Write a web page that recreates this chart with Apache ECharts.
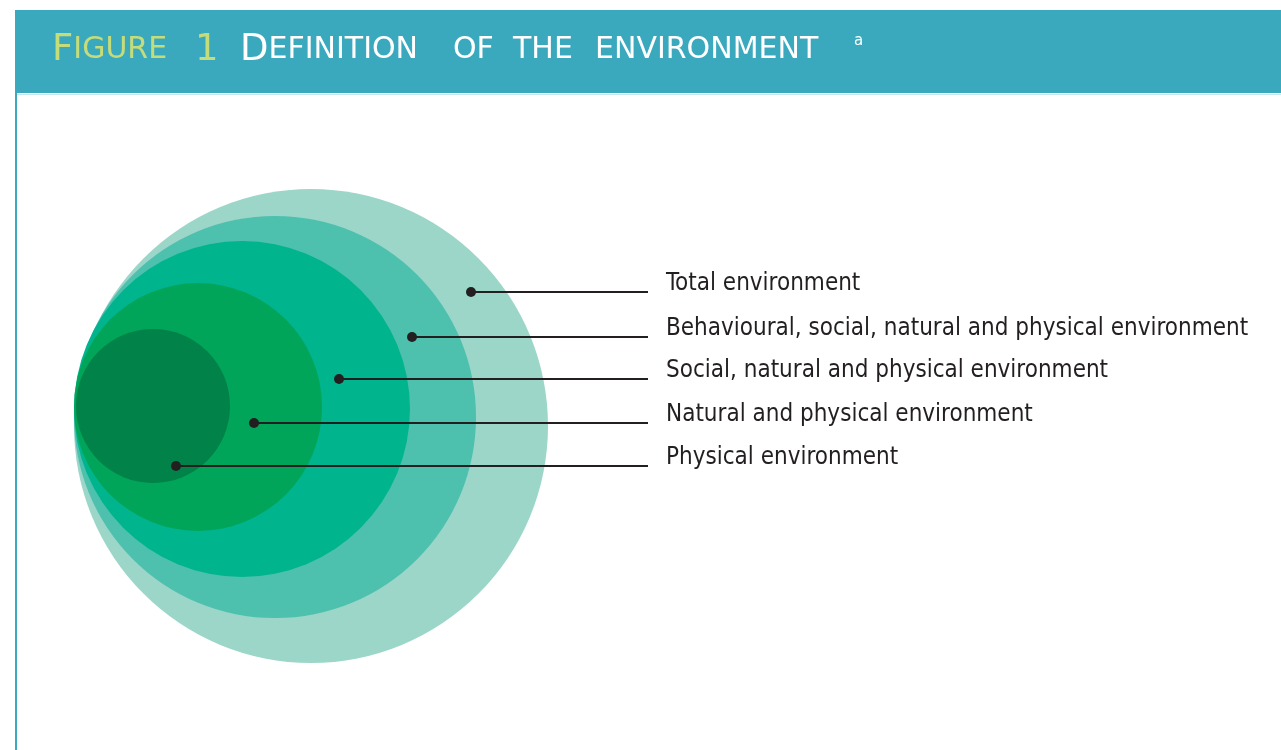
<!DOCTYPE html>
<html>
<head>
<meta charset="utf-8">
<title>Figure 1 Definition of the environment</title>
<script src="https://cdn.jsdelivr.net/npm/echarts@6/dist/echarts.min.js"></script>
<style>
  html, body { margin: 0; padding: 0; background: #fff; }
  #main { width: 1281px; height: 750px; }
</style>
</head>
<body>
<div id="main"></div>
<script>
// layers, outer to inner
const layerNames = [
  'Total environment',
  'Behavioural, social, natural and physical environment',
  'Social, natural and physical environment',
  'Natural and physical environment',
  'Physical environment'
];
const circleX = [311, 275, 242, 198, 153];
const circleY = [426, 417, 409, 407, 406];
const circleR = [237, 201, 168, 124, 77];
const circleColors = ['#9bd6c8', '#4dc0ae', '#00b48e', '#00a55a', '#008248'];
// leader dots
const dotX = [471, 412, 339, 254, 176];
const dotY = [292, 337, 379, 423, 466];
const lineEndX = 648;
const labelX = 666;

const chart = echarts.init(document.getElementById('main'));

const circleData = layerNames.map((n, i) => [circleX[i], circleY[i], circleR[i], i]);
const leaderData = layerNames.map((n, i) => [dotX[i], dotY[i], lineEndX, labelX, i]);

// title words (small caps faked with two sizes)
const titleFont = '"DejaVu Sans", sans-serif';
const capStyle = (color) => ({
  big: { fontFamily: titleFont, fontSize: 37, fill: color, verticalAlign: 'bottom', height: 40 },
  small: { fontFamily: titleFont, fontSize: 30, fill: color, verticalAlign: 'bottom', height: 40 }
});
function titleWord(x, big, small, color) {
  return {
    type: 'text', left: x, top: 32,
    style: { text: '{big|' + big + '}' + (small ? '{small|' + small + '}' : ''), rich: capStyle(color) }
  };
}
const green = '#c5dc7a';
const white = '#ffffff';

const option = {
  animation: false,
  backgroundColor: '#fff',
  grid: { left: 0, top: 0, right: 0, bottom: 0 },
  xAxis: { type: 'value', min: 0, max: 1281, show: false },
  yAxis: { type: 'value', min: 0, max: 750, inverse: true, show: false },
  graphic: [
    { type: 'rect', shape: { x: 15, y: 10, width: 1266, height: 83 }, style: { fill: '#3aa9be' } },
    { type: 'line', shape: { x1: 16, y1: 93, x2: 16, y2: 750 }, style: { stroke: '#3aa9be', lineWidth: 2 } },
    { type: 'line', shape: { x1: 17, y1: 94.5, x2: 1281, y2: 94.5 }, style: { stroke: '#c6e7ee', lineWidth: 1 } },
    titleWord(52, 'F', 'IGURE', green),
    titleWord(195, '1', '', green),
    titleWord(240, 'D', 'EFINITION', white),
    titleWord(453, '', 'OF', white),
    titleWord(513, '', 'THE', white),
    titleWord(595, '', 'ENVIRONMENT', white),
    { type: 'text', left: 854, top: 34, style: { text: 'a', fontFamily: titleFont, fontSize: 15, fill: white } }
  ],
  series: [
    {
      type: 'custom',
      coordinateSystem: 'cartesian2d',
      data: circleData,
      renderItem: (params, api) => {
        const c = api.coord([api.value(0), api.value(1)]);
        const r = api.size([api.value(2), 0])[0];
        return {
          type: 'circle',
          shape: { cx: c[0], cy: c[1], r: r },
          style: { fill: circleColors[api.value(3)] }
        };
      }
    },
    {
      type: 'custom',
      coordinateSystem: 'cartesian2d',
      data: leaderData,
      renderItem: (params, api) => {
        const i = api.value(4);
        const p0 = api.coord([api.value(0), api.value(1)]);
        const p1 = api.coord([api.value(2), api.value(1)]);
        const pt = api.coord([api.value(3), api.value(1)]);
        return {
          type: 'group',
          children: [
            { type: 'line', shape: { x1: p0[0], y1: p0[1], x2: p1[0], y2: p1[1] }, style: { stroke: '#231f20', lineWidth: 2 } },
            { type: 'circle', shape: { cx: p0[0], cy: p0[1], r: 5 }, style: { fill: '#231f20' } },
            {
              type: 'text',
              x: pt[0], y: pt[1] - 8,
              style: {
                text: layerNames[i],
                fontFamily: '"DejaVu Sans Condensed", sans-serif',
                fontSize: 24,
                fill: '#231f20',
                align: 'left',
                verticalAlign: 'middle'
              }
            }
          ]
        };
      }
    }
  ]
};

chart.setOption(option);
</script>
</body>
</html>
